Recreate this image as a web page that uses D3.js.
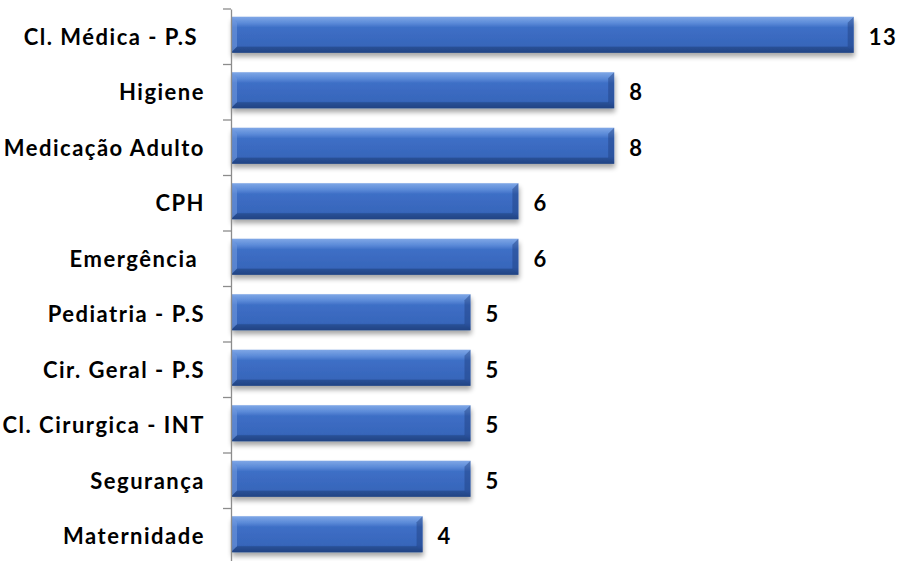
<!DOCTYPE html>
<html lang="en">
<head>
  <meta charset="utf-8" />
  <title>Bar chart</title>
  <style>
    body { margin: 0; padding: 0; background: #fff; }
    .cat text, .val { font-family: Lato, "Open Sans", sans-serif; font-weight: bold; fill: #000; white-space: pre; }
  </style>
  <script src="https://d3js.org/d3.v7.min.js"></script>
</head>
<body>
  <svg width="898" height="561"></svg>
  <script>
    // categories, top to bottom (two of them carry a trailing space in the source)
    const categories = ["Cl. Médica - P.S ", "Higiene", "Medicação Adulto", "CPH", "Emergência ",
                        "Pediatria - P.S", "Cir. Geral - P.S", "Cl. Cirurgica - INT", "Segurança", "Maternidade"];
    const values = [13, 8, 8, 6, 6, 5, 5, 5, 5, 4];

    const svg = d3.select("svg");
    const plotLeft = 231, plotTop = 9, plotBottom = 564;
    const fontSize = 22, spacing = 1.5;

    const x = d3.scaleLinear().domain([0, 14]).range([plotLeft, plotLeft + 14 * 47.9]);
    const y = d3.scaleBand().domain(categories).range([plotTop, plotBottom]).paddingInner(0.35).paddingOuter(0.175);

    const defs = svg.append("defs");
    const grad = defs.append("linearGradient").attr("id", "barGrad")
      .attr("x1", 0).attr("y1", 0).attr("x2", 0).attr("y2", 1);
    grad.append("stop").attr("offset", "0%").attr("stop-color", "#7fa7e6");
    grad.append("stop").attr("offset", "18%").attr("stop-color", "#5b8ad8");
    grad.append("stop").attr("offset", "30%").attr("stop-color", "#3e6fc6");
    grad.append("stop").attr("offset", "80%").attr("stop-color", "#3766bb");
    grad.append("stop").attr("offset", "100%").attr("stop-color", "#24488c");

    const shadow = defs.append("filter").attr("id", "shadow")
      .attr("x", "-5%").attr("y", "-20%").attr("width", "110%").attr("height", "160%");
    shadow.append("feGaussianBlur").attr("in", "SourceAlpha").attr("stdDeviation", 2.5);
    shadow.append("feOffset").attr("dx", 1).attr("dy", 4).attr("result", "b");
    shadow.append("feComponentTransfer").append("feFuncA").attr("type", "linear").attr("slope", 0.35);
    const merge = shadow.append("feMerge");
    merge.append("feMergeNode");
    merge.append("feMergeNode").attr("in", "SourceGraphic");

    const rows = categories.map((c, i) => ({ cat: c, v: values[i] }));

    const bars = svg.append("g").selectAll("g")
      .data(rows)
      .join("g");

    const barY = d => y(d.cat) - 2;

    bars.append("rect")
      .attr("x", x(0))
      .attr("y", barY)
      .attr("width", d => x(d.v) - x(0))
      .attr("height", y.bandwidth())
      .attr("fill", "url(#barGrad)")
      .attr("filter", "url(#shadow)");

    // bevel at the ends
    bars.append("path")
      .attr("d", d => {
        const y0 = barY(d), h = y.bandwidth(), b = 6;
        return `M${x(0)},${y0}L${x(0) + b},${y0 + b}L${x(0) + b},${y0 + h - b}L${x(0)},${y0 + h}Z`;
      })
      .attr("fill", "#6f98dc").attr("opacity", 0.6);
    bars.append("path")
      .attr("d", d => {
        const y0 = barY(d), h = y.bandwidth(), b = 6, xe = x(d.v);
        return `M${xe},${y0}L${xe - b},${y0 + b}L${xe - b},${y0 + h - b}L${xe},${y0 + h}Z`;
      })
      .attr("fill", "#1f3f7e").attr("opacity", 0.45);
    bars.append("path")
      .attr("d", d => {
        const y0 = barY(d), h = y.bandwidth(), b = 6;
        return `M${x(0)},${y0 + h}L${x(0) + b},${y0 + h - b}L${x(d.v) - b},${y0 + h - b}L${x(d.v)},${y0 + h}Z`;
      })
      .attr("fill", "#1e3f7c").attr("opacity", 0.5);

    bars.append("text")
      .attr("class", "val")
      .attr("x", d => x(d.v) + 15)
      .attr("y", d => y(d.cat) + y.bandwidth() / 2)
      .attr("dy", "0.36em")
      .attr("font-size", fontSize)
      .attr("letter-spacing", spacing)
      .text(d => d.v);

    // category axis
    const yAxis = d3.axisLeft(y.copy().paddingInner(0).paddingOuter(0)).tickSize(0).tickPadding(26);
    const ax = svg.append("g").attr("class", "cat")
      .attr("transform", `translate(${plotLeft},0)`)
      .call(yAxis);
    ax.select(".domain").attr("stroke", "#8c8c8c").attr("stroke-width", 1.3);
    ax.selectAll("text").attr("font-size", fontSize).attr("letter-spacing", spacing).attr("dy", "0.36em");

    // tick marks between categories
    const bounds = d3.range(categories.length + 1).map(i => plotTop + i * (plotBottom - plotTop) / categories.length);
    svg.append("g").selectAll("line")
      .data(bounds)
      .join("line")
      .attr("x1", plotLeft - 8).attr("x2", plotLeft)
      .attr("y1", d => d).attr("y2", d => d)
      .attr("stroke", "#8c8c8c").attr("stroke-width", 1.3);
  </script>
</body>
</html>
